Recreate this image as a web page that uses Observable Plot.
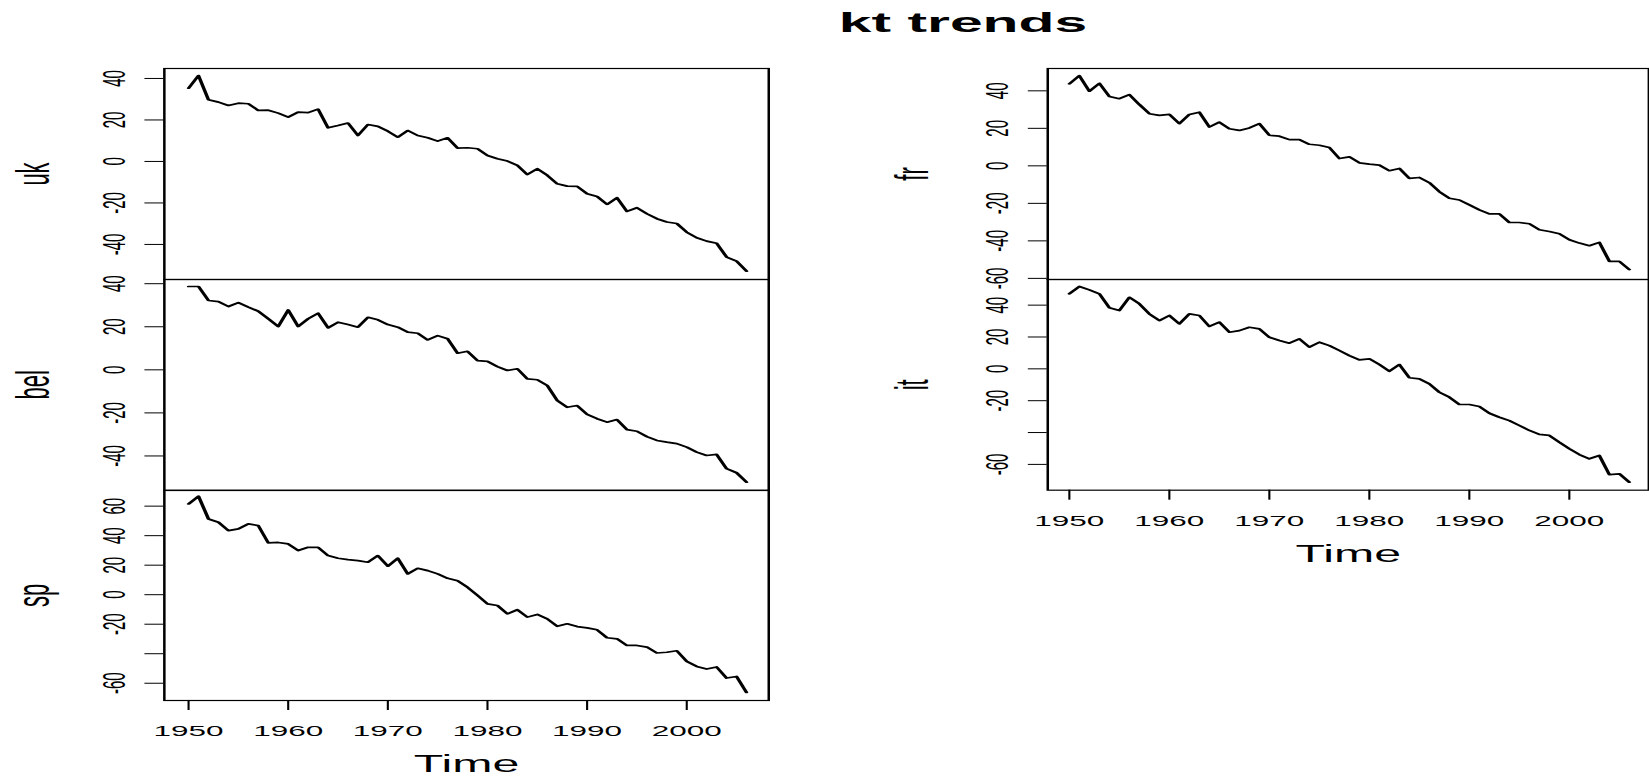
<!DOCTYPE html>
<html>
<head>
<meta charset="utf-8">
<script src="https://cdn.jsdelivr.net/npm/d3@7"></script>
<script src="https://cdn.jsdelivr.net/npm/@observablehq/plot@0.6"></script>
<style>
  html, body { margin: 0; padding: 0; background: #fff; overflow: hidden; }
  #stage { position: absolute; left: 0; top: 0; width: 786px; height: 776px; transform-origin: 0 0; }
  #title { position: absolute; font: bold 28px "Liberation Sans", Arial, sans-serif; line-height: 1; white-space: nowrap; transform: translateX(-50%); color: #000; }
</style>
</head>
<body>
<div id="stage"><div id="title">kt trends</div></div>
<script>
// ---- data (annual values 1950-2006) ----
const startYear = 1950;
const uk = [35.3, 41.4, 29.7, 28.6, 27.0, 28.1, 27.8, 24.6, 24.7, 23.3,
  21.4, 23.8, 23.5, 25.2, 16.2, 17.3, 18.5, 12.5, 17.8, 16.9,
  14.6, 11.7, 14.9, 12.5, 11.4, 9.8, 11.4, 6.4, 6.6, 6.1,
  2.9, 1.3, 0.2, -1.9, -6.3, -3.5, -6.7, -10.8, -11.9, -12.0,
  -15.6, -16.9, -20.7, -17.5, -24.1, -22.3, -25.2, -27.6, -29.2, -29.9,
  -34.1, -36.8, -38.4, -39.4, -46.1, -48.0, -52.9];
const bel = [38.7, 38.7, 32.2, 31.7, 29.4, 31.2, 29.1, 27.2, 23.7, 20.1,
  27.8, 20.1, 23.7, 26.3, 19.5, 22.1, 21.0, 19.8, 24.4, 23.2,
  21.0, 19.8, 17.5, 17.0, 13.9, 15.9, 14.4, 7.7, 8.6, 4.3,
  3.9, 1.5, -0.3, 0.5, -4.2, -4.6, -7.3, -14.2, -17.4, -16.6,
  -20.7, -22.7, -24.3, -23.1, -27.8, -28.5, -31.0, -32.8, -33.6, -34.3,
  -35.9, -38.2, -39.8, -39.3, -45.9, -47.8, -52.2];
const sp = [61.5, 66.7, 51.3, 49.1, 43.4, 44.6, 48.0, 46.8, 35.1, 35.4,
  34.4, 29.9, 32.1, 32.1, 26.5, 24.7, 23.8, 23.1, 22.0, 26.5,
  19.3, 24.7, 14.1, 17.9, 16.3, 14.1, 11.1, 9.5, 5.0, -0.5,
  -6.2, -7.3, -13.0, -10.2, -15.2, -13.4, -16.4, -21.4, -19.7, -21.6,
  -22.5, -23.8, -29.2, -29.9, -34.4, -34.4, -35.5, -39.5, -39.0, -38.0,
  -45.2, -48.6, -50.4, -49.0, -56.5, -55.4, -66.2];
const fr = [43.7, 48.1, 39.8, 44.0, 37.0, 35.8, 38.0, 32.7, 27.8, 26.9,
  27.4, 22.5, 27.4, 28.6, 20.7, 23.3, 19.8, 18.9, 20.2, 22.5,
  16.3, 15.8, 14.0, 14.0, 11.5, 11.0, 9.8, 3.9, 4.8, 1.6,
  0.9, 0.4, -2.6, -1.4, -6.7, -6.2, -9.0, -13.8, -17.3, -18.2,
  -20.8, -23.5, -25.6, -25.6, -30.2, -30.2, -30.9, -34.1, -35.0, -36.2,
  -39.4, -41.2, -42.6, -40.8, -50.9, -50.9, -55.3];
const it = [47.1, 51.7, 49.6, 47.1, 38.3, 36.6, 44.9, 40.8, 34.5, 30.3,
  33.5, 28.2, 34.5, 33.5, 26.6, 29.3, 23.0, 24.0, 26.1, 25.1,
  19.8, 17.8, 16.1, 18.8, 13.6, 16.7, 14.6, 11.5, 8.3, 5.6,
  6.3, 2.7, -1.5, 2.7, -5.6, -6.3, -9.4, -14.7, -17.8, -22.4,
  -22.4, -23.7, -27.9, -30.4, -32.5, -35.6, -38.7, -41.2, -41.8, -46.1,
  -50.2, -53.8, -56.5, -54.4, -66.4, -65.9, -71.2];

// tick values and their printed labels ("" = tick drawn, label dropped)
const xTicks = [1950, 1960, 1970, 1980, 1990, 2000];
const xTickLabels = ["1950", "1960", "1970", "1980", "1990", "2000"];
const ukTicks = [-40, -20, 0, 20, 40];
const ukTickLabels = ["-40", "-20", "0", "20", "40"];
const belTicks = [-40, -20, 0, 20, 40];
const belTickLabels = ["-40", "-20", "0", "20", "40"];
const spTicks = [-60, -40, -20, 0, 20, 40, 60];
const spTickLabels = ["-60", "", "-20", "0", "20", "40", "60"];
const frTicks = [-60, -40, -20, 0, 20, 40];
const frTickLabels = ["-60", "-40", "-20", "0", "20", "40"];
const itTicks = [-60, -40, -20, 0, 20, 40];
const itTickLabels = ["-60", "", "-20", "0", "20", "40"];
const seriesNames = ["uk", "bel", "sp", "fr", "it"];

// ---- layout (the picture is stretched horizontally by S) ----
const S = 2.1;
const stage = document.getElementById("stage");
stage.style.transform = `scaleX(${S})`;
const title = document.getElementById("title");
title.style.left = (963 / S) + "px";
title.style.top = (33 - 0.8465 * 28) + "px";

const FONT = '"Liberation Sans", Arial, Helvetica, sans-serif';
const years = uk.map((_, i) => startYear + i);
const xLab = new Map(xTicks.map((t, i) => [t, xTickLabels[i]]));

const leftCol = {svgLeft: 0, svgRight: 368, fl: 163.3 / S, fr: 767.7 / S, xDomain: [1947.57, 2008.23], nameOffset: 54.7};
const rightCol = {svgLeft: 420, svgRight: 786, fl: 1046.7 / S, fr: 1647.8 / S, xDomain: [1947.84, 2007.95], nameOffset: 57.0};

function panel(col, name, values, yDomain, ticks, labels, ft, fb, xaxis) {
  const mt = 14, mb = xaxis ? 80 : 14;
  const width = col.svgRight - col.svgLeft;
  const height = fb - ft + mt + mb;
  const data = years.map((year, i) => ({year, v: values[i]}));
  const lab = new Map(ticks.map((t, i) => [t, labels[i]]));
  const marks = [
    Plot.frame({stroke: "black", strokeWidth: 1.2}),
    Plot.line(data, {x: "year", y: "v", stroke: "black", strokeWidth: 1.7}),
    Plot.text([name], {text: d => d, frameAnchor: "left", dx: -col.nameOffset, rotate: -90,
      lineAnchor: "bottom", textAnchor: "middle", fontSize: 22, fill: "black"})
  ];
  if (xaxis) {
    marks.push(Plot.text(["Time"], {text: d => d, frameAnchor: "bottom", dy: 71.7,
      lineAnchor: "bottom", textAnchor: "middle", fontSize: 23, fill: "black"}));
  }
  const chart = Plot.plot({
    width, height,
    marginLeft: col.fl - col.svgLeft,
    marginRight: col.svgRight - col.fr,
    marginTop: mt, marginBottom: mb,
    style: {background: "transparent", overflow: "visible", fontFamily: FONT, fontSize: "15px", color: "black", maxWidth: "none"},
    x: xaxis
      ? {domain: col.xDomain, ticks: xTicks, tickFormat: d => xLab.get(d), tickSize: 10, tickPadding: 15, label: null}
      : {domain: col.xDomain, axis: null},
    y: {domain: yDomain, ticks, tickFormat: d => lab.get(d), tickRotate: -90, tickSize: 9, tickPadding: 9.8, label: null},
    marks
  });
  chart.style.position = "absolute";
  chart.style.left = col.svgLeft + "px";
  chart.style.top = (ft - mt) + "px";
  stage.appendChild(chart);
}

panel(leftCol, seriesNames[0], uk, [-56.9, 44.8], ukTicks, ukTickLabels, 68.3, 279.3, false);
panel(leftCol, seriesNames[1], bel, [-55.9, 41.95], belTicks, belTickLabels, 279.3, 490, false);
panel(leftCol, seriesNames[2], sp, [-71.7, 70.6], spTicks, spTickLabels, 490, 700, true);
panel(rightCol, seriesNames[3], fr, [-60.6, 51.9], frTicks, frTickLabels, 68.3, 279.3, false);
panel(rightCol, seriesNames[4], it, [-76.2, 56.1], itTicks, itTickLabels, 279.3, 490, true);
</script>
</body>
</html>
